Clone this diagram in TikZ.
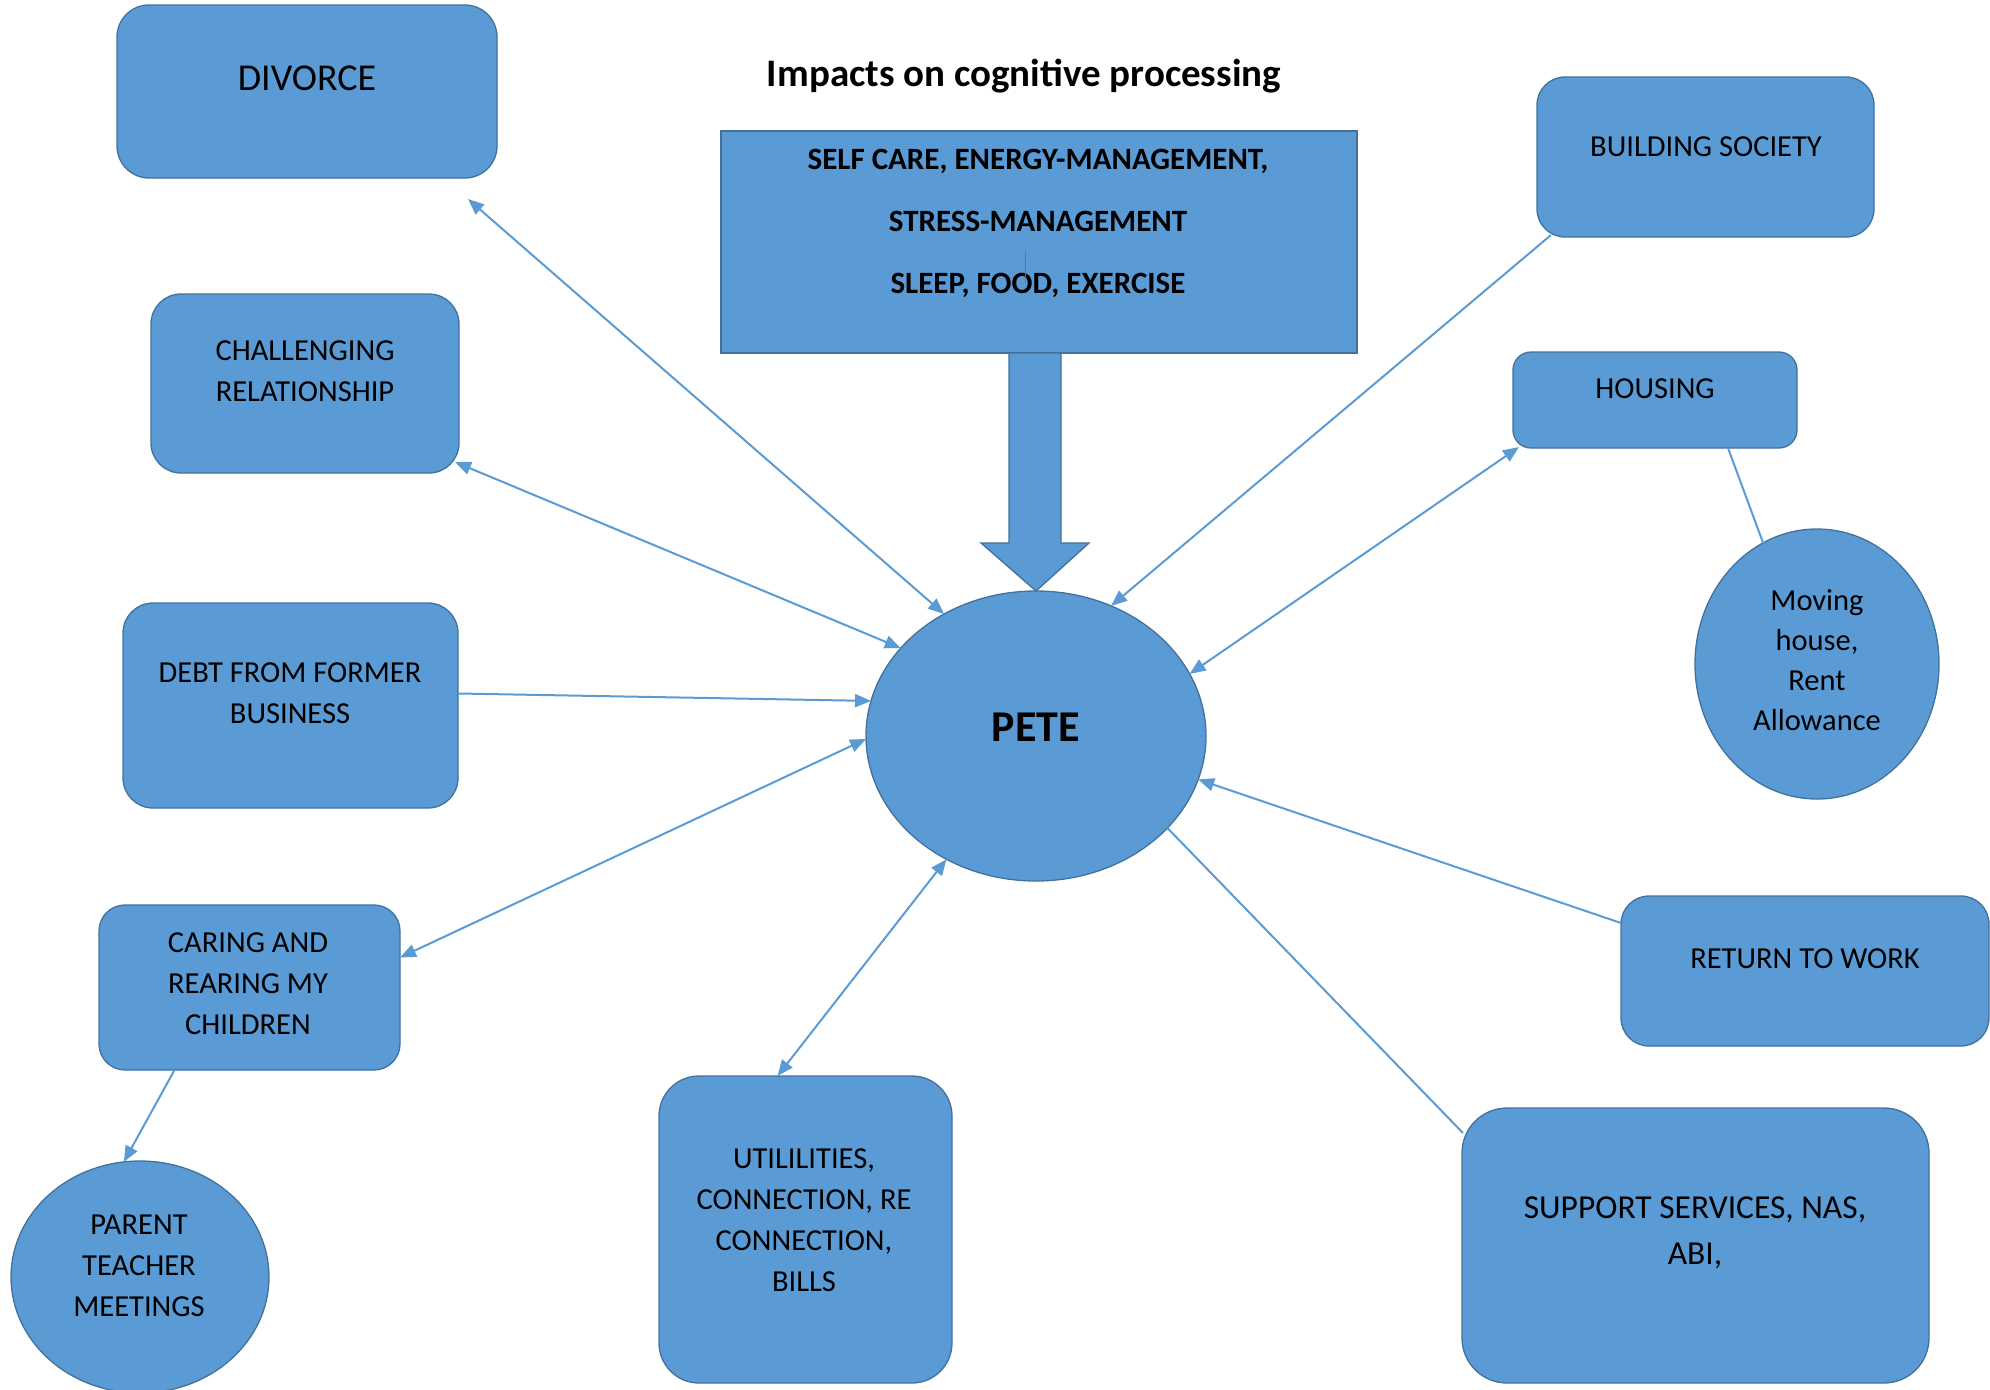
\documentclass[tikz,border=0pt]{standalone}
\usepackage{fontspec}
\setmainfont{Carlito}
\usetikzlibrary{shapes.geometric,arrows.meta}
\definecolor{fillblue}{HTML}{5B9BD5}
\definecolor{edgeblue}{HTML}{41719C}
\definecolor{cursorline}{HTML}{C55A11}
\tikzset{
  box/.style={draw=edgeblue, line width=1.3pt, fill=fillblue, rounded corners=#1, inner sep=0pt, outer sep=0pt},
  box/.default=30pt,
  sqbox/.style={draw=edgeblue, line width=1.3pt, fill=fillblue, inner sep=0pt, outer sep=0pt},
  ell/.style={ellipse, draw=edgeblue, line width=1.3pt, fill=fillblue, inner sep=0pt, outer sep=0pt},
  lbl/.style={align=center, text=black, inner sep=0pt, font=\fontsize{30.5}{41}\selectfont},
  conn/.style={draw=fillblue, line width=2pt},
  >={Triangle[length=16pt,width=13pt]},
}
\begin{document}
\begin{tikzpicture}[x=1pt,y=-1pt]
\useasboundingbox (0,0) rectangle (1990,1390);

% title
\node[inner sep=0pt, font=\bfseries\fontsize{39}{46}\selectfont] (title) at (1024,76) {Impacts on cognitive processing};

% top box
\node[sqbox, minimum width=636pt, minimum height=222pt] (top) at (1039,242) {};
\node[align=center, inner sep=0pt, font=\bfseries\fontsize{31}{62}\selectfont] (top-t) at (1038,223)
  {SELF CARE, ENERGY-MANAGEMENT,\\STRESS-MANAGEMENT\\SLEEP, FOOD, EXERCISE};
\draw[cursorline, line width=1pt] (1025,251) -- (1025,283);

% central ellipse
\node[ell, minimum width=340pt, minimum height=290pt] (pete) at (1036,736) {};
\node[inner sep=0pt, font=\bfseries\fontsize{44}{50}\selectfont] (pete-t) at (1036,727) {PETE};

% big block arrow from the top box to the ellipse
\draw[draw=edgeblue, fill=fillblue, line width=1.3pt]
  (1009,353) -- (1009,543) -- (981,543) -- (pete.north) -- (1089,543) -- (1061,543) -- (1061,353) -- cycle;

% left side
\node[box=32pt, minimum width=380pt, minimum height=173pt] (divorce) at (307,91.5) {};
\node[lbl, font=\fontsize{38}{44}\selectfont] (divorce-t) at (307,78) {DIVORCE};

\node[box=30pt, minimum width=308pt, minimum height=179pt] (chall) at (305,383.5) {};
\node[lbl] (chall-t) at (305,371) {CHALLENGING\\RELATIONSHIP};

\node[box=30pt, minimum width=335pt, minimum height=205pt] (debt) at (290.5,705.5) {};
\node[lbl] (debt-t) at (290,693) {DEBT FROM FORMER\\BUSINESS};

\node[box=26pt, minimum width=301pt, minimum height=165pt] (caring) at (249.5,987.5) {};
\node[lbl] (caring-t) at (248,984) {CARING AND\\REARING MY\\CHILDREN};

\node[ell, minimum width=258pt, minimum height=232pt] (parent) at (140,1277) {};
\node[lbl] (parent-t) at (139,1266) {PARENT\\TEACHER\\MEETINGS};

% bottom
\node[box=40pt, minimum width=293pt, minimum height=307pt] (util) at (805.5,1229.5) {};
\node[lbl] (util-t) at (804,1220) {UTILILITIES,\\CONNECTION, RE\\CONNECTION,\\BILLS};

\node[box=45pt, minimum width=467pt, minimum height=275pt] (support) at (1695.5,1245.5) {};
\node[lbl, font=\fontsize{33.5}{46}\selectfont] (support-t) at (1695,1233) {SUPPORT SERVICES, NAS,\\ABI,};

% right side
\node[box=28pt, minimum width=368pt, minimum height=150pt] (return) at (1805,971) {};
\node[lbl] (return-t) at (1805,959) {RETURN TO WORK};

\node[box=28pt, minimum width=337pt, minimum height=160pt] (building) at (1705.5,157) {};
\node[lbl] (building-t) at (1706,147) {BUILDING SOCIETY};

\node[box=18pt, minimum width=284pt, minimum height=96pt] (housing) at (1655,400) {};
\node[lbl] (housing-t) at (1655,389) {HOUSING};

\node[ell, minimum width=244pt, minimum height=270pt] (moving) at (1817,664) {};
\node[lbl, font=\fontsize{30.5}{40}\selectfont] (moving-t) at (1817,660) {Moving\\house,\\Rent\\Allowance};

% connectors
\draw[conn, <->] ([shift={(-29,21)}]divorce.south east) -- (pete.127);
\draw[conn, <->] ([shift={(-4,-11)}]chall.south east) -- (pete.147);
\draw[conn, ->] ([shift={(0,-12)}]debt.east) -- (pete.168);
\draw[conn, <->] ([shift={(0,-30)}]caring.east) -- (pete.181);
\draw[conn, <->] ([shift={(-28,0)}]util.north) -- (pete.234);
\draw[conn] ([shift={(1,25)}]support.north west) -- (pete.325);
\draw[conn, ->] ([shift={(0,27)}]return.north west) -- (pete.345);
\draw[conn, <->] ([shift={(6,-1)}]housing.south west) -- (pete.22);
\draw[conn, ->] ([shift={(14,-2)}]building.south west) -- (pete.60);
\draw[conn] ([shift={(73,0)}]housing.south) -- (moving.114);
\draw[conn, ->] ([shift={(-75,0)}]caring.south) -- (parent.98);
\end{tikzpicture}
\end{document}
